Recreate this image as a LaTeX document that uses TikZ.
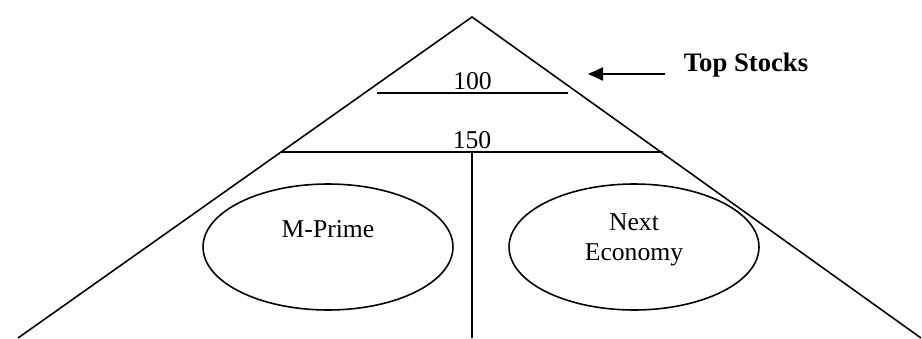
\documentclass[tikz,border=0pt]{standalone}
\usepackage{fontspec}
\setmainfont{Liberation Serif}
\usetikzlibrary{shapes.geometric}
\usetikzlibrary{arrows.meta}

\begin{document}
\begin{tikzpicture}[x=0.02cm, y=-0.02cm, line width=0.9pt,
    font=\fontsize{14.6}{17}\selectfont,
    market/.style={shape=ellipse, draw=black, minimum width=5cm, minimum height=2.52cm}]
\useasboundingbox (0,0) rectangle (922,338);

                    \coordinate (apex) at (472,17);
                    \coordinate (baseL) at (18,338);
                    \coordinate (baseR) at (921,338);
                    \coordinate (tierL) at (377,93);
                    \coordinate (tierR) at (568,93);
                    \coordinate (midL) at (281,152);
                    \coordinate (midR) at (663,152);
                    \coordinate (splitTop) at (472,152);
                    \coordinate (splitBot) at (472,338);
                    \coordinate (arrowTail) at (665,74);
                    \coordinate (arrowTip) at (588,74);

                    \node[market] (mprime) at (328,247) {};
                    \node[market] (nexteco) at (634,247) {};
                    \node (mprimeText) at (328,229) {M-Prime};
                    \node[align=center] (nextecoText) at (634,240) {Next\\Economy};
                    \node[anchor=base west, inner sep=0pt, font=\fontsize{15.2}{17}\selectfont\bfseries] (topstocks) at (683,71) {Top Stocks};

                    \draw (baseL) -- (apex) -- (baseR);
                    \draw (tierL) -- (tierR) node[midway, above, inner sep=1.5pt] {100};
                    \draw (midL) -- (midR) node[midway, above, inner sep=1.5pt] {150};
                    \draw (splitTop) -- (splitBot);
                    \draw[line width=1.1pt, -{Triangle[length=0.3cm, width=0.26cm]}] (arrowTail) -- (arrowTip);

\end{tikzpicture}
\end{document}
